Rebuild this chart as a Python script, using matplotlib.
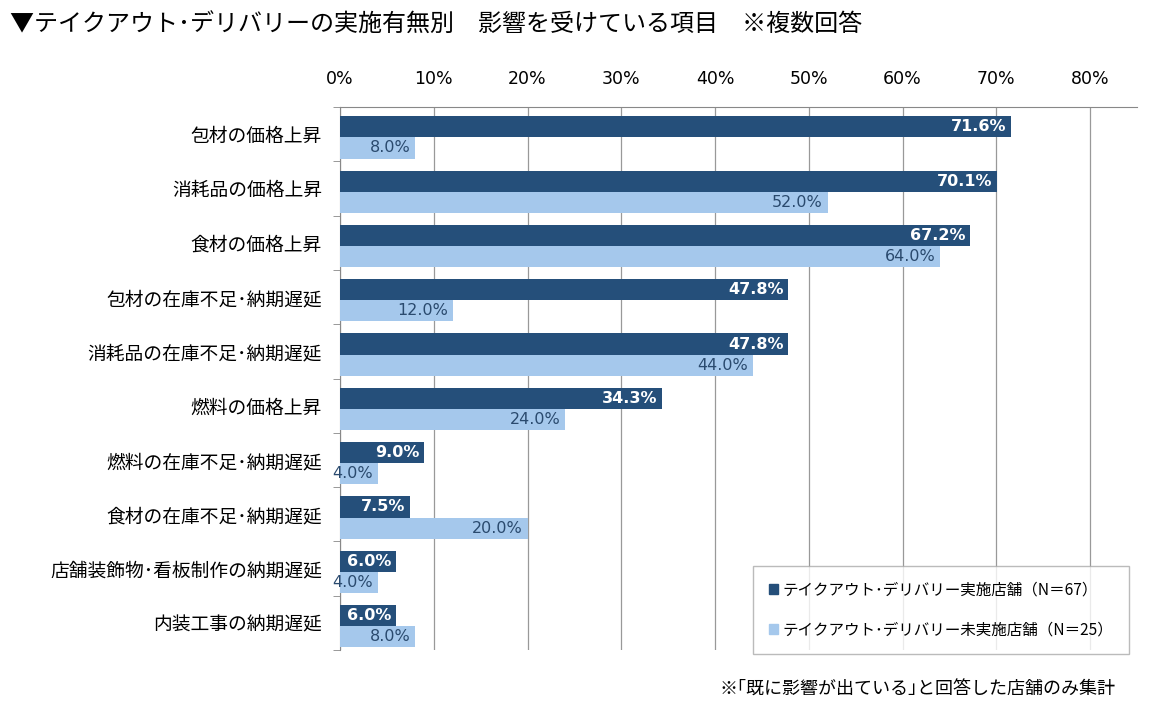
import numpy as np
import matplotlib.pyplot as plt
from matplotlib.patches import Patch

plt.rcParams['font.family'] = ['Noto Sans CJK JP', 'DejaVu Sans']

categories = ["包材の価格上昇", "消耗品の価格上昇", "食材の価格上昇", "包材の在庫不足･納期遅延",
              "消耗品の在庫不足･納期遅延", "燃料の価格上昇", "燃料の在庫不足･納期遅延",
              "食材の在庫不足･納期遅延", "店舗装飾物･看板制作の納期遅延", "内装工事の納期遅延"]
takeout_yes = [71.6, 70.1, 67.2, 47.8, 47.8, 34.3, 9.0, 7.5, 6.0, 6.0]
takeout_no = [8.0, 52.0, 64.0, 12.0, 44.0, 24.0, 4.0, 20.0, 4.0, 8.0]
series_names = ["テイクアウト･デリバリー実施店舗（N＝67）", "テイクアウト･デリバリー未実施店舗（N＝25）"]
xticks = [0, 10, 20, 30, 40, 50, 60, 70, 80]

dark = "#254f7a"
light = "#a5c8ec"

fig = plt.figure(figsize=(11.6, 7.26), dpi=100)
ax = fig.add_axes([340/1160, 1-650/726, (1137-340)/1160, (650-107)/726])

n = len(categories)
y = np.arange(n) + 0.06
h = 0.39
ax.barh(y - h/2, takeout_yes, height=h, color=dark, zorder=3)
ax.barh(y + h/2, takeout_no, height=h, color=light, zorder=3)

for i in range(n):
    ax.text(takeout_yes[i] - 0.5, y[i] - h/2, f"{takeout_yes[i]:.1f}%", ha="right", va="center",
            color="white", fontsize=11.5, fontweight="bold", family="DejaVu Sans", zorder=4)
    ax.text(takeout_no[i] - 0.5, y[i] + h/2, f"{takeout_no[i]:.1f}%", ha="right", va="center",
            color="#2a4a6e", fontsize=11.5, family="DejaVu Sans", zorder=4)

ax.set_xlim(0, 85)
ax.set_ylim(n - 0.5, -0.5)
ax.set_xticks(xticks)
ax.set_xticklabels([f"{t}%" for t in xticks], fontsize=12.5, family="DejaVu Sans")
ax.xaxis.tick_top()
ax.tick_params(axis="x", length=0, pad=14)
ax.set_yticks(np.arange(n))
ax.set_yticklabels(categories, fontsize=13.5)
ax.tick_params(axis="y", length=0, pad=13)
ax.set_yticks(np.arange(n + 1) - 0.5, minor=True)
ax.tick_params(axis="y", which="minor", length=5, color="#888888")
ax.grid(axis="x", color="#999999", linewidth=0.9, zorder=0)
for s in ["right", "bottom"]:
    ax.spines[s].set_visible(False)
ax.spines["left"].set_color("#888888")
ax.spines["top"].set_color("#888888")

handles = [Patch(color=dark), Patch(color=light)]
leg = fig.legend(handles, series_names, loc="upper left", bbox_to_anchor=(753/1160, 1-566/726),
                 fontsize=11.2, frameon=True, fancybox=False, edgecolor="#aaaaaa",
                 handlelength=0.6, handleheight=0.6, handletextpad=0.3, labelspacing=1.5,
                 borderpad=1.0, borderaxespad=0)
leg.get_frame().set_linewidth(1.0)

fig.text(10/1160, 1-25/726, "▼テイクアウト･デリバリーの実施有無別　影響を受けている項目　※複数回答",
         fontsize=17.3, va="center", ha="left")
fig.text(1115/1160, 1-690/726, "※｢既に影響が出ている｣と回答した店舗のみ集計",
         fontsize=13, va="center", ha="right")

fig.savefig("out.png", dpi=100)
